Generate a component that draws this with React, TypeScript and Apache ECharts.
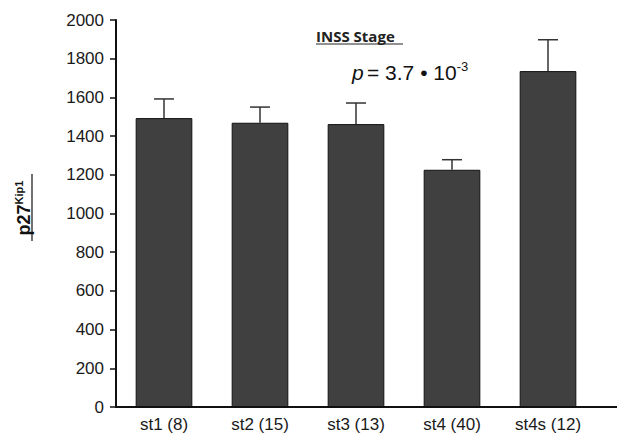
import React, { useEffect, useRef } from "react";
import * as echarts from "echarts";

const categories = ["st1 (8)", "st2 (15)", "st3 (13)", "st4 (40)", "st4s (12)"];
const means = [1493, 1469, 1462, 1226, 1736];
const upper = [1592, 1550, 1571, 1278, 1898];
const yTicks = [0, 200, 400, 600, 800, 1000, 1200, 1400, 1600, 1800, 2000];

export default function App() {
  const ref = useRef<HTMLDivElement>(null);
  useEffect(() => {
    if (!ref.current) return;
    const chart = echarts.init(ref.current, null, { renderer: "svg" });
    const font = "Liberation Sans";
    chart.setOption({
      animation: false,
      backgroundColor: "#ffffff",
      grid: { left: 116, top: 20, right: 21, bottom: 33, containLabel: false },
      xAxis: {
        type: "category",
        data: categories,
        axisLine: { lineStyle: { color: "#111", width: 2 } },
        axisTick: { alignWithLabel: true, length: 4, lineStyle: { color: "#111", width: 1 } },
        axisLabel: { color: "#1a1a1a", fontSize: 17, fontFamily: font, margin: 9 },
      },
      yAxis: {
        type: "value",
        min: yTicks[0],
        max: yTicks[yTicks.length - 1],
        interval: 200,
        axisLine: { show: true, lineStyle: { color: "#111", width: 2 } },
        axisTick: { show: true, length: 6, lineStyle: { color: "#111", width: 1.5 } },
        splitLine: { show: false },
        axisLabel: {
          color: "#1a1a1a",
          fontSize: 17,
          fontFamily: font,
          margin: 12,
          formatter: (v: number) => String(v),
        },
      },
      series: [
        {
          type: "bar",
          data: means,
          barWidth: "59%",
          itemStyle: { color: "#404040", borderColor: "#111", borderWidth: 1 },
          z: 2,
        },
        {
          type: "custom",
          data: means.map((m, i) => [i, m, upper[i]]),
          z: 3,
          renderItem: (params: any, api: any) => {
            const i = api.value(0);
            const p0 = api.coord([i, api.value(1)]);
            const p1 = api.coord([i, api.value(2)]);
            const hw = 10;
            const style = { stroke: "#333", lineWidth: 1.5 };
            return {
              type: "group",
              children: [
                { type: "line", shape: { x1: p0[0], y1: p0[1], x2: p1[0], y2: p1[1] }, style },
                { type: "line", shape: { x1: p1[0] - hw, y1: p1[1], x2: p1[0] + hw, y2: p1[1] }, style },
              ],
            };
          },
        },
      ],
      graphic: [
        {
          type: "line",
          shape: { x1: 590, y1: 407, x2: 617, y2: 407 },
          style: { stroke: "#111", lineWidth: 2 },
        },
        {
          type: "text",
          x: 316,
          y: 36,
          style: {
            text: "INSS Stage",
            fontFamily: "Open Sans",
            fontWeight: "bold",
            fontSize: 15,
            fill: "#222",
            verticalAlign: "middle",
            align: "left",
          },
        },
        {
          type: "line",
          shape: { x1: 316, y1: 44, x2: 403, y2: 44 },
          style: { stroke: "#222", lineWidth: 1 },
        },
        {
          type: "text",
          x: 352,
          y: 72,
          style: {
            text: "{i|p} {n|= 3.7 • 10}{s|-3}",
            verticalAlign: "middle",
            align: "left",
            rich: {
              i: { fontFamily: font, fontStyle: "italic", fontSize: 21, fill: "#111" },
              n: { fontFamily: font, fontSize: 21, fill: "#111" },
              s: { fontFamily: font, fontSize: 13, fill: "#111", padding: [0, 0, 11, 0] },
            },
          },
        },
        {
          type: "text",
          x: 24,
          y: 208,
          rotation: Math.PI / 2,
          style: {
            text: "{a|p27}{b|Kip1}",
            align: "center",
            verticalAlign: "middle",
            rich: {
              a: { fontFamily: font, fontWeight: "bold", fontSize: 18, fill: "#111" },
              b: { fontFamily: font, fontWeight: "bold", fontSize: 11, fill: "#111", padding: [0, 0, 10, 0] },
            },
          },
        },
        {
          type: "line",
          shape: { x1: 32, y1: 174, x2: 32, y2: 241 },
          style: { stroke: "#111", lineWidth: 1.2 },
        },
      ],
    });
    return () => chart.dispose();
  }, []);
  return (
    <div
      ref={ref}
      style={{ position: "fixed", left: 0, top: 0, width: 617, height: 440 }}
    />
  );
}
